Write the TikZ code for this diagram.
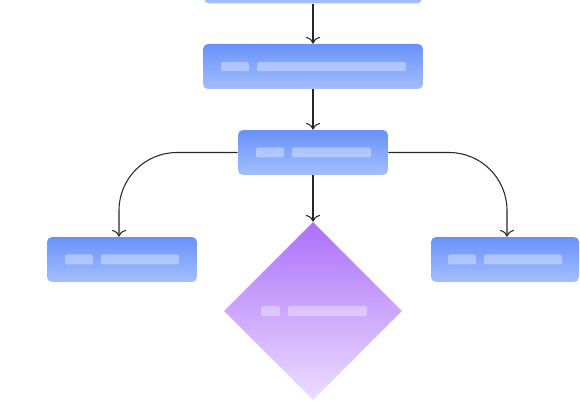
\documentclass[tikz,border=0pt]{standalone}
\usetikzlibrary{shapes.geometric,arrows.meta}
\definecolor{boxtop}{RGB}{104,145,251}
\definecolor{boxbot}{RGB}{164,190,253}
\definecolor{dectop}{RGB}{172,112,250}
\definecolor{decbot}{RGB}{236,221,254}
\begin{document}
\begin{tikzpicture}[x=0.02cm,y=-0.02cm,line join=round,>={To[scale=1.3]},
  stepbox/.style={rectangle,rounded corners=0.1cm,inner sep=0pt,top color=boxtop,bottom color=boxbot,minimum height=0.9cm},
  decision/.style={diamond,aspect=1,inner sep=0pt,minimum size=3.56cm,top color=dectop,bottom color=decbot},
  pill/.style={fill=white,fill opacity=0.35,rounded corners=0.04cm},
  link/.style={->,line width=0.6pt,draw=black!85}]
\useasboundingbox (0,0) rectangle (580,401);

\node[stepbox,minimum width=4.36cm] (start) at (313,-19) {};
\node[stepbox,minimum width=4.4cm] (load) at (313,66.5) {};
\node[stepbox,minimum width=3cm] (split) at (313,152.5) {};
\node[stepbox,minimum width=3cm] (lhs) at (122,259.5) {};
\node[stepbox,minimum width=2.96cm] (rhs) at (505,259.5) {};
\node[decision] (check) at (313,311) {};

% placeholder text
\fill[pill,shift={(load.center)}] (-92,-4.5) rectangle (-64,4.5) (-56,-4.5) rectangle (93,4.5);
\fill[pill,shift={(split.center)}] (-57,-5) rectangle (-29,5) (-21,-5) rectangle (58,5);
\fill[pill,shift={(lhs.center)}] (-57,-5) rectangle (-29,5) (-21,-5) rectangle (57,5);
\fill[pill,shift={(rhs.center)}] (-57,-5) rectangle (-29,5) (-21,-5) rectangle (57,5);
\fill[pill,shift={(check.center)}] (-52,-5) rectangle (-33,5) (-25,-5) rectangle (54,5);

\draw[link] (start.south) -- (load.north);
\draw[link] (load.south) -- (split.north);
\draw[link] (split.south) -- (check.north);
\draw[link,rounded corners=1.16cm] (split.west) -| ([xshift=-0.06cm]lhs.north);
\draw[link,rounded corners=1.16cm] (split.east) -| ([xshift=0.04cm]rhs.north);
\end{tikzpicture}
\end{document}
